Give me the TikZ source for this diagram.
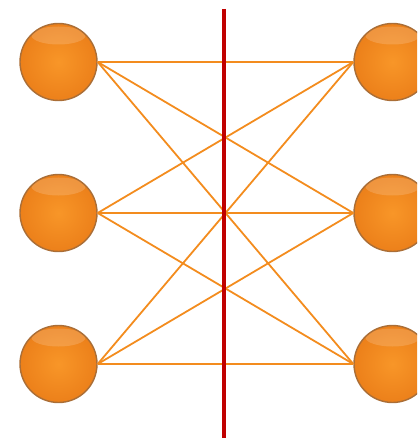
\documentclass[tikz,border=0pt]{standalone}
\definecolor{ballorange}{RGB}{248,150,40}
\definecolor{balldark}{RGB}{236,128,26}
\definecolor{ballrim}{RGB}{170,110,55}
\definecolor{wireorange}{RGB}{243,140,30}
\definecolor{cutred}{RGB}{192,0,0}
\begin{document}
\begin{tikzpicture}[x=1pt,y=-1pt,
  unit/.style={circle,minimum size=77pt,inner sep=0pt,draw=ballrim,line width=1.4pt,
    inner color=ballorange,outer color=balldark,
    path picture={\fill[white,opacity=0.16] (path picture bounding box.north) ++(0,12) ellipse (27pt and 9pt);}},
  wire/.style={wireorange,line width=1.8pt}]
  \useasboundingbox (0,0) rectangle (417,438);
  \clip (0,0) rectangle (417,438);
  \node[unit] (l1) at (58.5,62) {};
  \node[unit] (l2) at (58.5,213) {};
  \node[unit] (l3) at (58.5,364) {};
  \node[unit] (r1) at (392.5,62) {};
  \node[unit] (r2) at (392.5,213) {};
  \node[unit] (r3) at (392.5,364) {};
  \foreach \i in {1,2,3}
    \foreach \j in {1,2,3}
      \draw[wire] (l\i.east) -- (r\j.west);
  \coordinate (cuttop) at (224,9);
  \coordinate (cutbot) at (224,438);
  \draw[cutred,line width=4.5pt] (cuttop) -- (cutbot);
\end{tikzpicture}
\end{document}
